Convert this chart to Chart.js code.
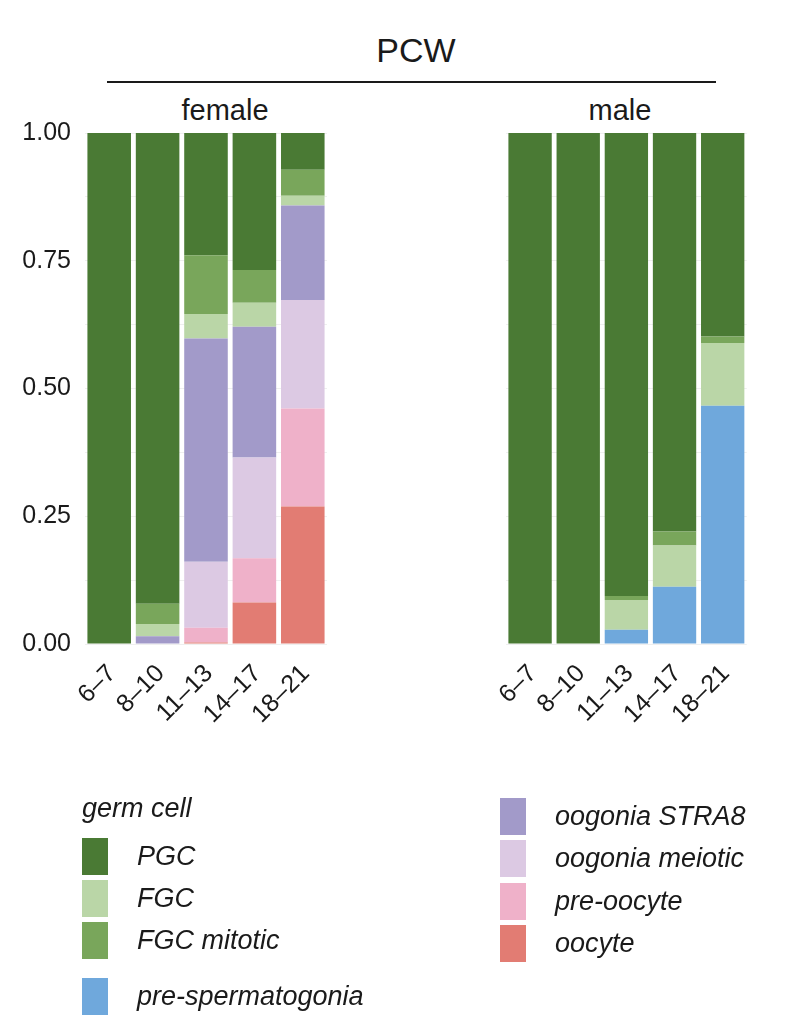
<!DOCTYPE html>
<html>
<head>
<meta charset="utf-8">
<script src="https://cdn.jsdelivr.net/npm/chart.js@4.4.1/dist/chart.umd.min.js"></script>
<style>
  html, body { margin: 0; padding: 0; background: #ffffff; }
  body { width: 810px; height: 1028px; position: relative; overflow: hidden;
         font-family: "Liberation Sans", Arial, Helvetica, sans-serif; color: #1a1a1a; }
  .abs { position: absolute; }
  #pcw { left: 0; width: 832px; top: 30px; text-align: center; font-size: 34px; line-height: 40px; }
  #rule { left: 107px; top: 81px; width: 609px; height: 2px; background: #1a1a1a; }
  .strip { top: 93px; font-size: 29px; line-height: 34px; text-align: center; width: 200px; }
  .leg { font-style: italic; font-size: 27px; line-height: 32px; }
  .sw { position: absolute; width: 26px; height: 37px; }
  .lt { position: absolute; white-space: nowrap; }
</style>
</head>
<body>
<div id="pcw" class="abs">PCW</div>
<div id="rule" class="abs"></div>
<div class="abs strip" style="left:125px;">female</div>
<div class="abs strip" style="left:520px;">male</div>
<canvas id="cf" class="abs" style="left:0px;top:104px;" width="340" height="656"></canvas>
<canvas id="cm" class="abs" style="left:480px;top:123px;" width="280" height="637"></canvas>
<div id="legend" class="abs leg" style="left:0;top:0;width:810px;height:1028px;pointer-events:none;"></div>
<script>
// ---- data ----
const categories = ["6\u20137", "8\u201310", "11\u201313", "14\u201317", "18\u201321"];
const yTicks = [0, 0.25, 0.5, 0.75, 1.0];
const seriesNames = ["pre-spermatogonia", "oocyte", "pre-oocyte", "oogonia meiotic", "oogonia STRA8", "FGC", "FGC mitotic", "PGC"];
const seriesColors = ["#6fa8dc", "#e27c73", "#efb1c9", "#dcc9e3", "#a29ac9", "#bad6a7", "#79a65b", "#4a7a34"];

// female proportions (bottom to top, same order as seriesNames)
const femalePreSpermatogonia = [0, 0, 0, 0, 0];
const femaleOocyte          = [0, 0, 0.003, 0.081, 0.269];
const femalePreOocyte       = [0, 0, 0.029, 0.087, 0.192];
const femaleOogoniaMeiotic  = [0, 0, 0.129, 0.197, 0.212];
const femaleOogoniaSTRA8    = [0, 0.015, 0.437, 0.256, 0.185];
const femaleFGC             = [0, 0.024, 0.048, 0.047, 0.019];
const femaleFGCMitotic      = [0, 0.040, 0.115, 0.064, 0.051];
const femalePGC             = [1, 0.921, 0.239, 0.268, 0.072];

// male proportions
const malePreSpermatogonia  = [0, 0, 0.028, 0.112, 0.466];
const maleOocyte            = [0, 0, 0, 0, 0];
const malePreOocyte         = [0, 0, 0, 0, 0];
const maleOogoniaMeiotic    = [0, 0, 0, 0, 0];
const maleOogoniaSTRA8      = [0, 0, 0, 0, 0];
const maleFGC               = [0, 0, 0.058, 0.081, 0.123];
const maleFGCMitotic        = [0, 0, 0.008, 0.027, 0.013];
const malePGC               = [1, 1, 0.906, 0.780, 0.398];

const femaleSeries = [femalePreSpermatogonia, femaleOocyte, femalePreOocyte, femaleOogoniaMeiotic, femaleOogoniaSTRA8, femaleFGC, femaleFGCMitotic, femalePGC];
const maleSeries = [malePreSpermatogonia, maleOocyte, malePreOocyte, maleOogoniaMeiotic, maleOogoniaSTRA8, maleFGC, maleFGCMitotic, malePGC];

// legend layout order
const legendLeft = ["PGC", "FGC", "FGC mitotic", "pre-spermatogonia"];
const legendRight = ["oogonia STRA8", "oogonia meiotic", "pre-oocyte", "oocyte"];

// ---- charts ----
const FONT = "'Liberation Sans', Arial, Helvetica, sans-serif";
function makeDatasets(series) {
  return series.map((vals, i) => ({
    label: seriesNames[i],
    data: vals,
    backgroundColor: seriesColors[i],
    borderWidth: 0,
    barPercentage: 0.9,
    categoryPercentage: 1.0
  }));
}
function makeChart(id, series, showY, yWidth, padRight) {
  return new Chart(document.getElementById(id), {
    type: 'bar',
    data: { labels: categories, datasets: makeDatasets(series) },
    options: {
      responsive: false,
      animation: false,
      layout: { padding: { top: 10, right: padRight, left: 0, bottom: 0 } },
      plugins: { legend: { display: false }, tooltip: { enabled: false } },
      scales: {
        x: {
          stacked: true,
          grid: { display: false, drawTicks: false },
          border: { display: false },
          ticks: { autoSkip: false, maxRotation: 45, minRotation: 45, padding: 15, labelOffset: 3,
                   color: '#1a1a1a', font: { family: FONT, size: 25 } },
          afterFit: s => { s.height = 116; }
        },
        y: {
          stacked: true, min: 0, max: 1,
          grid: { color: '#efefef', lineWidth: 1, drawTicks: false },
          border: { display: false },
          afterBuildTicks: s => {
            const t = [];
            for (let k = 0; k <= 8; k++) t.push({ value: k * 0.125 });
            s.ticks = t;
          },
          ticks: {
            display: showY, padding: 14, color: '#1a1a1a',
            font: { family: FONT, size: 25 },
            callback: v => (yTicks.some(t => Math.abs(t - v) < 1e-9) ? v.toFixed(2) : '')
          },
          afterFit: s => { s.width = yWidth; }
        }
      }
    }
  });
}
makeChart('cf', femaleSeries, true, 85, 10);
makeChart('cm', maleSeries, false, 26, 11);

// ---- legend ----
const leg = document.getElementById('legend');
function addText(txt, x, y) {
  const d = document.createElement('div');
  d.className = 'lt'; d.textContent = txt;
  d.style.left = x + 'px'; d.style.top = y + 'px';
  leg.appendChild(d);
}
function addItem(name, sx, sy, tx) {
  const sw = document.createElement('div');
  sw.className = 'sw';
  sw.style.left = sx + 'px'; sw.style.top = sy + 'px';
  sw.style.background = seriesColors[seriesNames.indexOf(name)];
  leg.appendChild(sw);
  addText(name, tx, sy + 2);
}
addText("germ cell", 82, 792);
const leftY = [838, 880, 922, 978];
legendLeft.forEach((n, i) => addItem(n, 82, leftY[i], 137));
const rightY = [798, 840, 883, 925];
legendRight.forEach((n, i) => addItem(n, 500, rightY[i], 555));
</script>
</body>
</html>
